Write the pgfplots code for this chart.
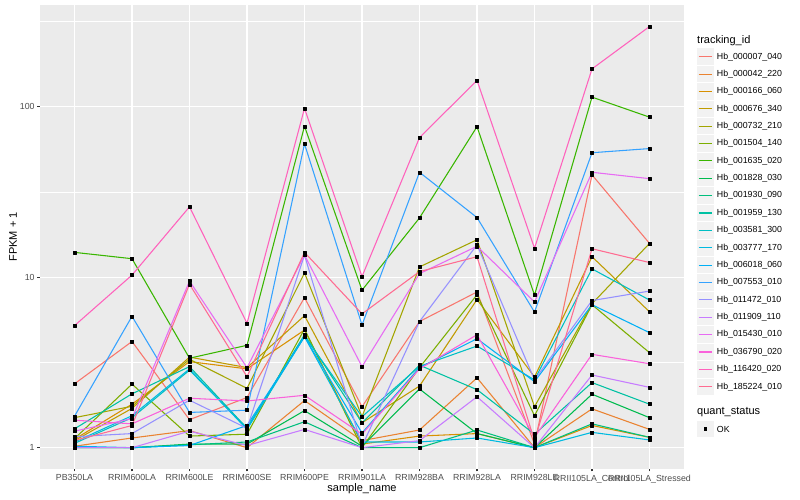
\documentclass[border=0pt]{standalone}
\usepackage{fontspec}
\setmainfont{Liberation Sans}
\usepackage{pgfplots}
\usepackage{pgfplotstable}
\pgfplotsset{compat=1.18}
\definecolor{c1}{HTML}{F8766D}
\definecolor{c2}{HTML}{EA8331}
\definecolor{c3}{HTML}{D89000}
\definecolor{c4}{HTML}{C09B00}
\definecolor{c5}{HTML}{A3A500}
\definecolor{c6}{HTML}{7CAE00}
\definecolor{c7}{HTML}{39B600}
\definecolor{c8}{HTML}{00BB4E}
\definecolor{c9}{HTML}{00BF7D}
\definecolor{c10}{HTML}{00C1A3}
\definecolor{c11}{HTML}{00BFC4}
\definecolor{c12}{HTML}{00BAE0}
\definecolor{c13}{HTML}{00B0F6}
\definecolor{c14}{HTML}{35A2FF}
\definecolor{c15}{HTML}{9590FF}
\definecolor{c16}{HTML}{C77CFF}
\definecolor{c17}{HTML}{E76BF3}
\definecolor{c18}{HTML}{FA62DB}
\definecolor{c19}{HTML}{FF62BC}
\definecolor{c20}{HTML}{FF6C91}
\definecolor{panelgray}{HTML}{EBEBEB}
\definecolor{keygray}{HTML}{F2F2F2}
\definecolor{gray30}{HTML}{4D4D4D}
\definecolor{gray20}{HTML}{333333}
\newcommand\ticksize{\fontsize{8.8bp}{10bp}\selectfont}
\newcommand\titlesize{\fontsize{11bp}{13bp}\selectfont}

\pgfplotstableread{
x s1 s2 s3 s4 s5 s6 s7 s8 s9 s10 s11 s12 s13 s14 s15 s16 s17 s18 s19 s20
0 2.37 1.02 1.12 1.1 1.5 1.13 14.0 1.0 1.0 1.29 1.06 1.08 1.02 1.53 1.16 1.0 1.25 1.45 5.2 1.1
1 4.2 1.14 1.8 1.7 1.75 2.36 12.85 1.0 1.0 2.07 1.5 1.54 1.0 5.9 1.21 1.0 1.48 1.38 10.3 1.35
2 1.46 1.26 3.2 3.4 3.3 1.17 3.35 1.05 1.04 2.99 2.85 2.9 1.03 1.61 1.9 1.25 9.5 1.95 25.9 9.1
3 1.97 1.0 2.9 2.95 2.23 1.2 3.99 1.05 1.08 1.3 1.3 1.28 1.35 1.66 1.3 1.03 2.95 1.88 5.37 2.61
4 7.6 1.89 4.9 5.95 10.6 4.97 77 1.65 1.42 4.6 4.5 4.48 4.48 60.6 13.5 1.28 13.5 2.03 98 14.0
5 1.74 1.1 1.05 1.4 1.52 1.0 8.4 1.02 1.0 1.4 1.52 1.08 1.22 5.25 1.02 1.0 2.99 1.2 10.1 6.1
6 5.5 1.27 1.17 2.3 11.5 2.95 22.3 2.21 1.0 3.05 3.0 1.08 2.95 41.3 5.5 1.1 10.5 2.9 66 10.8
7 8.2 2.57 1.21 7.4 16.6 7.9 76.5 1.21 1.27 2.19 3.95 1.14 4.36 22.4 15.5 1.99 15.2 4.6 143 13.2
8 1.05 1.0 1.0 2.6 1.74 1.54 7.86 1.0 1.0 1.2 2.5 1.0 2.44 6.25 2.5 1.0 7.16 1.15 14.8 1.1
9 39.9 1.69 1.35 13.2 7.0 6.9 114 2.06 1.38 2.41 11.2 1.23 6.9 53.8 7.3 2.67 41.3 3.53 167 14.7
10 15.8 1.28 1.15 6.27 15.8 3.61 87 1.50 1.15 1.80 7.35 1.11 4.73 56.9 8.3 2.26 37.9 3.11 296 12.2
}\data

\begin{document}
\begin{tikzpicture}[x=1bp,y=1bp]
\useasboundingbox (0,0) rectangle (800,500);
\fill[white] (0,0) rectangle (800,500);
\begin{axis}[
  at={(40bp,31.3bp)}, anchor=south west,
  scale only axis, width=644bp, height=463.7bp,
  ymode=log, ymin=0.753, ymax=396,
  xmin=-0.6, xmax=10.6,
  xtick={0,...,10},
  xticklabels={PB350LA,RRIM600LA,RRIM600LE,RRIM600SE,RRIM600PE,RRIM901LA,RRIM928BA,RRIM928LA,RRIM928LE,RRII105LA\_Control,RRII105LA\_Stressed},
  ytick={1,10,100}, yticklabels={1,10,100},
  minor ytick={3.1623,31.623,316.23},
  xtick pos=lower, ytick pos=left,
  grid=both,
  major grid style={white, line width=1.07bp},
  minor grid style={white, line width=0.53bp},
  axis background/.style={fill=panelgray},
  axis line style={draw=none},
  tick align=outside,
  major tick length=2.75bp,
  minor tick length=0pt,
  tick style={gray20, line width=1.07bp},
  /pgf/number format/assume math mode=true,
  xticklabel style={font=\ticksize, text=gray30, inner sep=0pt, anchor=north, yshift=-3.2bp},
  yticklabel style={font=\ticksize, text=gray30, inner sep=0pt, anchor=east, xshift=-2.5bp},
  xlabel={sample\_name}, ylabel={FPKM + 1},
  xlabel style={font=\titlesize, at={(axis description cs:0.5,-0.0423)}, anchor=center},
  ylabel style={font=\titlesize, at={(axis description cs:-0.0419,0.5)}, anchor=center},
  line join=round,
]
\pgfplotsinvokeforeach{1,...,20}{
  \addplot[color=c#1, line width=1.07bp, no marks] table[x=x, y=s#1] {\data};
}
\pgfplotsinvokeforeach{1,...,20}{
  \addplot[black, only marks, mark=square*, mark size=1.5bp] table[x=x, y=s#1] {\data};
}
\end{axis}
% legend
\node[anchor=west, inner sep=0pt, font=\titlesize] at (697, 459.3) {tracking\_id};
\foreach \name [count=\i] in {Hb\_000007\_040,Hb\_000042\_220,Hb\_000166\_060,Hb\_000676\_340,Hb\_000732\_210,Hb\_001504\_140,Hb\_001635\_020,Hb\_001828\_030,Hb\_001930\_090,Hb\_001959\_130,Hb\_003581\_300,Hb\_003777\_170,Hb\_006018\_060,Hb\_007553\_010,Hb\_011472\_010,Hb\_011909\_110,Hb\_015430\_010,Hb\_036790\_020,Hb\_116420\_020,Hb\_185224\_010}{
  \pgfmathsetmacro\yy{500-(56.7+(\i-1)*17.37)}
  \fill[keygray] (697,\yy-8.2) rectangle (713.5,\yy+8.2);
  \draw[color=c\i, line width=1.07bp] (698.6,\yy) -- (711.9,\yy);
  \node[anchor=west, inner sep=0pt, font=\ticksize] at (716.7,\yy) {\name};
}
\node[anchor=west, inner sep=0pt, font=\titlesize] at (697, 87.7) {quant\_status};
\fill[keygray] (697,71-8.2) rectangle (713.5,71+8.2);
\fill[black] (703.5,69.3) rectangle (706.9,72.7);
\node[anchor=west, inner sep=0pt, font=\ticksize] at (716.7,71) {OK};
\end{tikzpicture}
\end{document}
